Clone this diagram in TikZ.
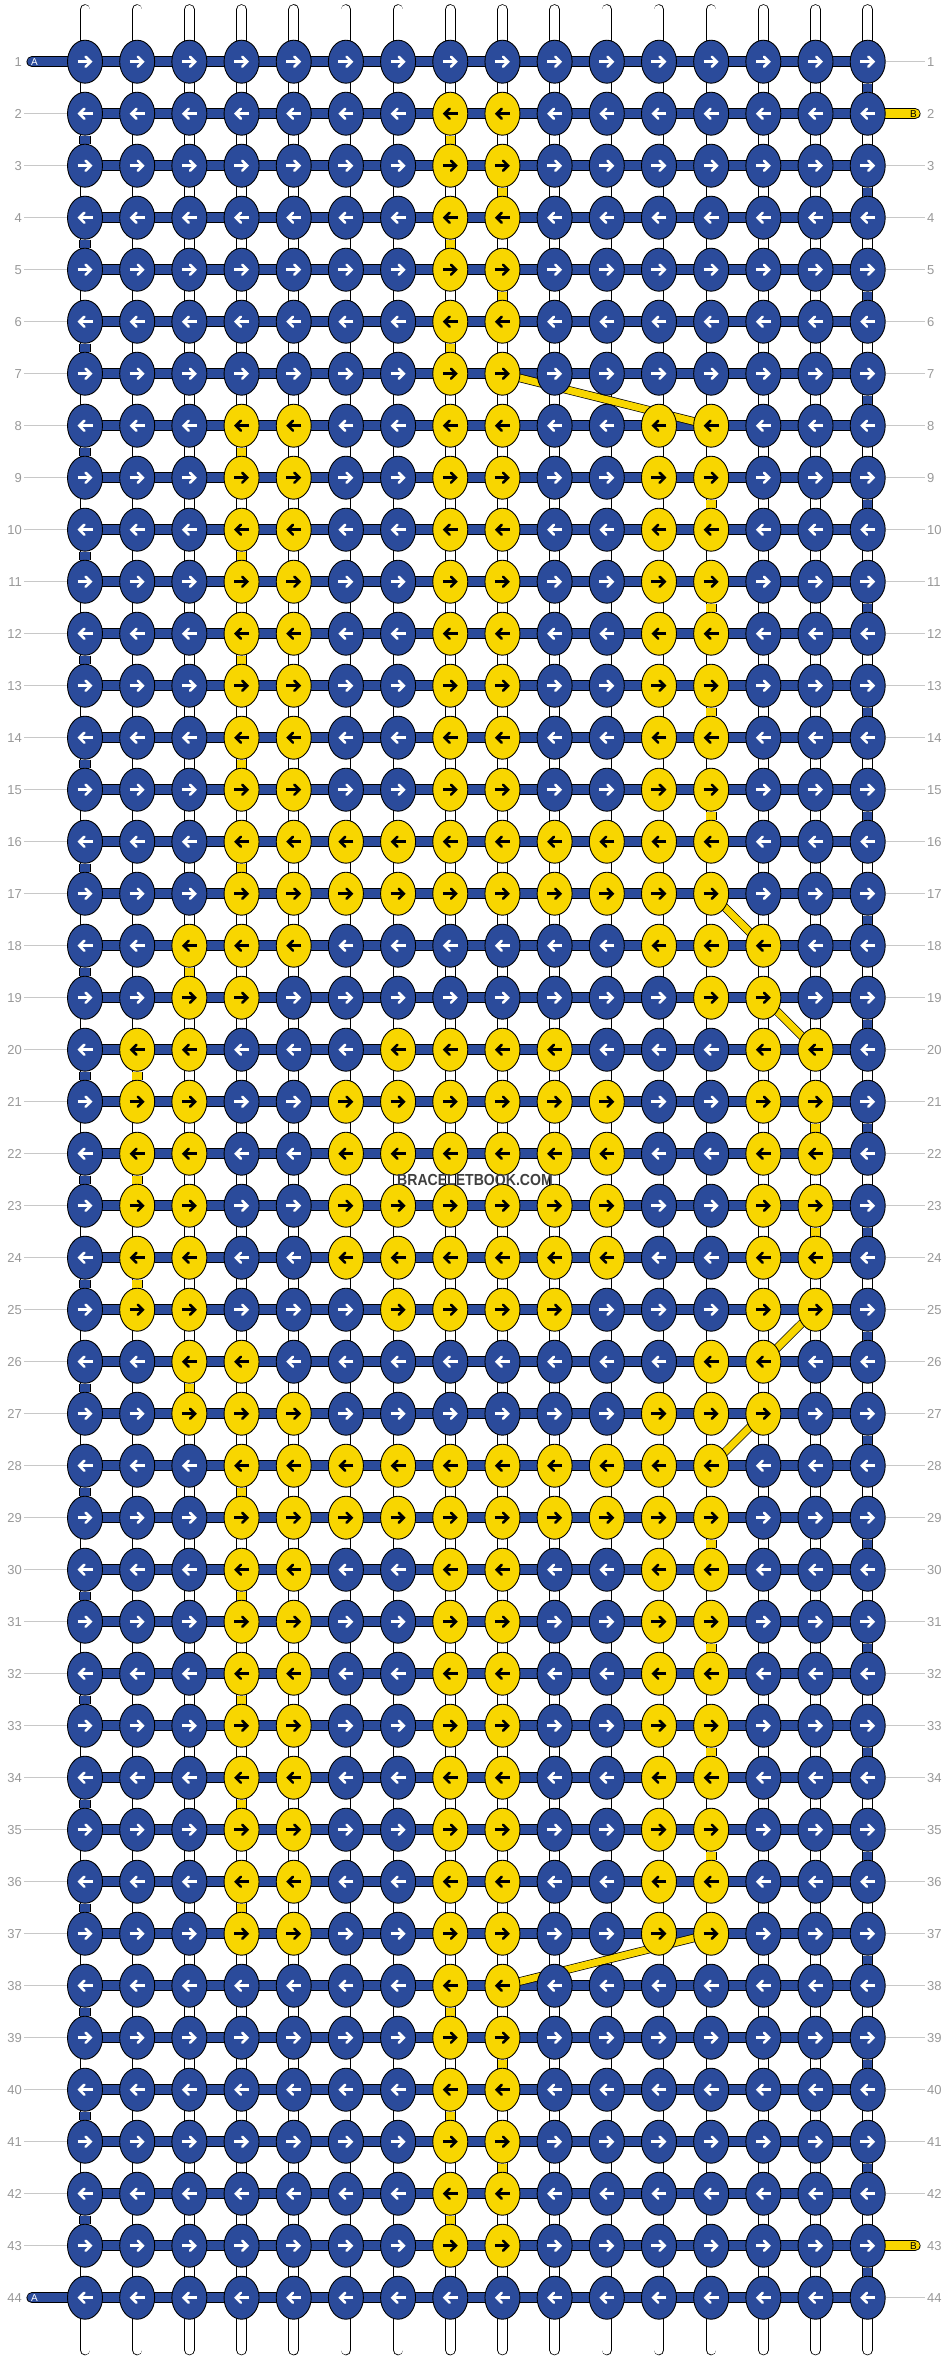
\documentclass[tikz,border=0pt]{standalone}
\usepackage{fontspec}
\setmainfont{Liberation Sans}
\usetikzlibrary{shapes.geometric}
\usetikzlibrary{arrows.meta}
\usetikzlibrary{backgrounds}

\definecolor{knotblue}{HTML}{2B4B9B}
\definecolor{knotyellow}{HTML}{F8D600}
\definecolor{rowgray}{HTML}{999999}
\definecolor{tickgray}{HTML}{C8C8C8}
\definecolor{markgray}{HTML}{404040}

\tikzset{
    knot/.style = {ellipse, draw = black, line width = 0.9pt, minimum width = 35pt, minimum height = 43pt, inner sep = 0pt},
    knotarrow/.style = {line width = 2.6pt, -{Straight Barb[length = 5pt, width = 10pt, line cap = round]}},
    pointright/.style = {path picture = {\draw[knotarrow, draw = \arrowcol] ([xshift = -7.5pt]path picture bounding box.center) -- ([xshift = 7.5pt]path picture bounding box.center);}},
    pointleft/.style = {path picture = {\draw[knotarrow, draw = \arrowcol] ([xshift = 7.5pt]path picture bounding box.center) -- ([xshift = -7.5pt]path picture bounding box.center);}},
    strand/.style = {draw = black, line width = 0.8pt, double = white, double distance = 9pt, line cap = round},
    bluebar/.style = {draw = black, line width = 0.8pt, double = knotblue, double distance = 9.5pt},
    yellowbar/.style = {draw = black, line width = 0.8pt, double = knotyellow, double distance = 9.5pt},
    yellowdiag/.style = {draw = black, line width = 0.7pt, double = knotyellow, double distance = 7pt},
    rowlabel/.style = {text = rowgray, font = \fontsize{13}{15}\selectfont, inner sep = 2pt},
    rowtick/.style = {draw = tickgray, line width = 1.2pt},
    stubletter/.style = {font = \fontsize{10}{12}\selectfont, inner sep = 0pt},
}

% rows, columns of the yellow knots
\newcommand\yellowknots[2]{%
    \foreach \r in {#1} {\foreach \c in {#2} {\expandafter\gdef\csname yel-\r-\c\endcsname{}}}%
}
% column, rows where the yellow string drops to the next row
\newcommand\yellowdrop[2]{%
    \foreach \r in {#2} {
        \pgfmathtruncatemacro\rn{\r + 1}
        \draw[yellowbar] (k-\r-#1) -- (k-\rn-#1);
    }%
}

\begin{document}
\begin{tikzpicture}[x = 1pt, y = -1pt]

    \useasboundingbox (0,0) rectangle (948,2360);

    \yellowknots{2,...,7}{8,9}
    \yellowknots{38,...,43}{8,9}
    \yellowknots{8,...,15}{4,5,8,9,12,13}
    \yellowknots{30,...,37}{4,5,8,9,12,13}
    \yellowknots{16,17,28,29}{4,...,13}
    \yellowknots{18,27}{3,4,5,12,13,14}
    \yellowknots{19,26}{3,4,13,14}
    \yellowknots{20,25}{2,3,7,8,9,10,14,15}
    \yellowknots{21,...,24}{2,3,6,7,8,9,10,11,14,15}

    % knots
    \foreach \r in {1,...,44} {
        \pgfmathsetmacro\ky{61.7 + (\r - 1)*52}
        \ifodd\r \def\kdir{pointright}\else \def\kdir{pointleft}\fi
        \foreach \c in {1,...,16} {
            \ifcsname yel-\r-\c\endcsname
                \def\kcol{knotyellow}\def\arrowcol{black}
            \else
                \def\kcol{knotblue}\def\arrowcol{white}
            \fi
            \node (k-\r-\c) at ({85 + (\c - 1)*52.18}, \ky) [knot, fill = \kcol, \kdir] {};
        }
        \node (ln-\r) at (24, \ky) [rowlabel, anchor = east] {\r};
        \node (rn-\r) at (925, \ky) [rowlabel, anchor = west] {\r};
    }

    % row ticks
    \foreach \r in {2,...,43} {
        \draw[rowtick] (ln-\r) -- (k-\r-1);
    }
    \foreach \r in {1,3,4,...,42,44} {
        \draw[rowtick] (k-\r-16) -- (rn-\r);
    }

    \begin{scope}[on background layer]

        \fill[white] (0,0) rectangle (948,2360);

        % strings
        \foreach \c in {1,...,16} {
            \coordinate (top-\c) at ({85 + (\c - 1)*52.18}, 9.5);
            \coordinate (bot-\c) at ({85 + (\c - 1)*52.18}, 2350);
            \draw[strand] (top-\c) -- (bot-\c);
        }

        \foreach \r in {1,...,44} {
            \draw[bluebar] (k-\r-1.center) -- (k-\r-16.center);
        }

        % A and B
        \coordinate (a-in) at (32, 61.7);
        \coordinate (a-out) at (32, 2297.7);
        \coordinate (b-in) at (915, 113.7);
        \coordinate (b-out) at (915, 2245.7);

        \draw[bluebar, line cap = round] (a-in) -- (k-1-1.center);
        \draw[bluebar, line cap = round] (a-out) -- (k-44-1.center);
        \draw[yellowbar, line cap = round] (k-2-16.center) -- (b-in);
        \draw[yellowbar, line cap = round] (k-43-16.center) -- (b-out);

        % background string going down
        \foreach \r in {1,3,...,43} {
            \pgfmathtruncatemacro\rn{\r + 1}
            \draw[bluebar] (k-\r-16) -- (k-\rn-16);
        }
        \foreach \r in {2,4,...,42} {
            \pgfmathtruncatemacro\rn{\r + 1}
            \draw[bluebar] (k-\r-1) -- (k-\rn-1);
        }

        % yellow string going down
        \yellowdrop{8}{2,4,6,38,40,42}
        \yellowdrop{9}{3,5,39,41}
        \yellowdrop{4}{8,10,12,14,16,28,30,32,34,36}
        \yellowdrop{13}{9,11,13,15,29,31,33,35}
        \yellowdrop{3}{18,26}
        \yellowdrop{2}{20,22,24}
        \yellowdrop{15}{21,23}

        \draw[yellowdiag] (k-7-9.center) -- (k-8-13.center);
        \draw[yellowdiag] (k-17-13.center) -- (k-18-14.center);
        \draw[yellowdiag] (k-19-14.center) -- (k-20-15.center);
        \draw[yellowdiag] (k-25-15.center) -- (k-26-14.center);
        \draw[yellowdiag] (k-27-14.center) -- (k-28-13.center);
        \draw[yellowdiag] (k-37-13.center) -- (k-38-9.center);

    \end{scope}

    \node (a-top) at (34.5, 61.7) [stubletter, text = white] {A};
    \node (a-bottom) at (34.5, 2297.7) [stubletter, text = white] {A};
    \node (b-top) at (913.5, 113.7) [stubletter] {B};
    \node (b-bottom) at (913.5, 2245.7) [stubletter] {B};

    \node (mark) at (475, 1179.7) [text = markgray, font = \fontsize{16}{18}\selectfont\bfseries] {\scalebox{0.88}[1]{BRACELETBOOK.COM}};

\end{tikzpicture}
\end{document}
